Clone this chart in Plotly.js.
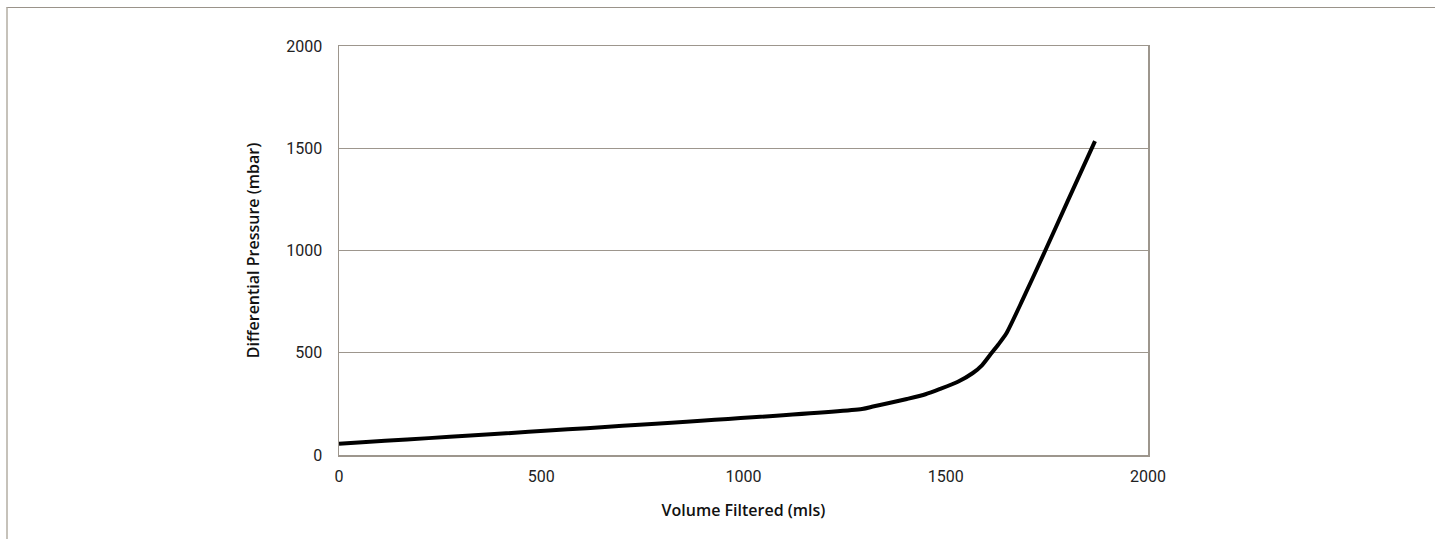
<!DOCTYPE html>
<html>
<head>
<meta charset="utf-8">
<script src="https://cdn.plot.ly/plotly-3.0.1.min.js"></script>
<style>
  html, body { margin: 0; padding: 0; background: #fff; }
  #wrap { position: relative; width: 1435px; height: 539px; overflow: hidden; }
  #chart { position: absolute; left: 0; top: 0; width: 1435px; height: 539px; }
  #frame { position: absolute; left: 6px; top: 7px; width: 1435px; height: 540px;
           border-top: 1px solid #9a938a; border-left: 2px solid #c6c2ba; pointer-events: none; }
</style>
</head>
<body>
<div id="wrap">
  <div id="chart"></div>
  <div id="frame"></div>
</div>
<script>
const volume = [0, 1293, 1320, 1360, 1404, 1450, 1486, 1530, 1567, 1590, 1609, 1630, 1650, 1691, 1745, 1800, 1869];
const pressure = [55, 225, 237, 254, 274, 297, 323, 358, 401, 440, 488, 540, 595, 763, 995, 1235, 1535];
const xTicks = [0, 500, 1000, 1500, 2000];
const yTicks = [0, 500, 1000, 1500, 2000];

const frameColor = '#9d968d';

Plotly.newPlot('chart', [{
  x: volume,
  y: pressure,
  type: 'scatter',
  mode: 'lines',
  line: { color: '#000', width: 4, shape: 'spline', smoothing: 0.6 },
  hoverinfo: 'skip'
}], {
  width: 1435,
  height: 539,
  margin: { l: 339, r: 287, t: 46, b: 84 },
  paper_bgcolor: '#fff',
  plot_bgcolor: '#fff',
  showlegend: false,
  font: { family: 'Roboto, sans-serif', size: 16, color: '#222' },
  xaxis: {
    range: [0, 2000],
    tickvals: xTicks,
    ticktext: xTicks.map(String),
    showgrid: false,
    zeroline: false,
    showline: true,
    mirror: true,
    linecolor: frameColor,
    linewidth: 1.5,
    ticks: 'outside',
    ticklen: 6,
    tickcolor: 'rgba(0,0,0,0)',
    tickfont: { family: 'Roboto, sans-serif', size: 16, color: '#222' },
    title: { text: 'Volume Filtered (mls)', standoff: 20,
             font: { family: '"Open Sans", sans-serif', size: 16, color: '#111', weight: 600 } }
  },
  yaxis: {
    range: [0, 2000],
    tickvals: yTicks,
    ticktext: yTicks.map(String),
    showgrid: true,
    gridcolor: frameColor,
    gridwidth: 1,
    zeroline: false,
    showline: true,
    mirror: true,
    linecolor: frameColor,
    linewidth: 1.5,
    ticks: 'outside',
    ticklen: 12,
    tickcolor: 'rgba(0,0,0,0)',
    tickfont: { family: 'Roboto, sans-serif', size: 16, color: '#222' },
    title: { text: 'Differential Pressure (mbar)', standoff: 22,
             font: { family: '"Open Sans", sans-serif', size: 16, color: '#111', weight: 600 } }
  }
}, { displayModeBar: false, staticPlot: true });
</script>
</body>
</html>
